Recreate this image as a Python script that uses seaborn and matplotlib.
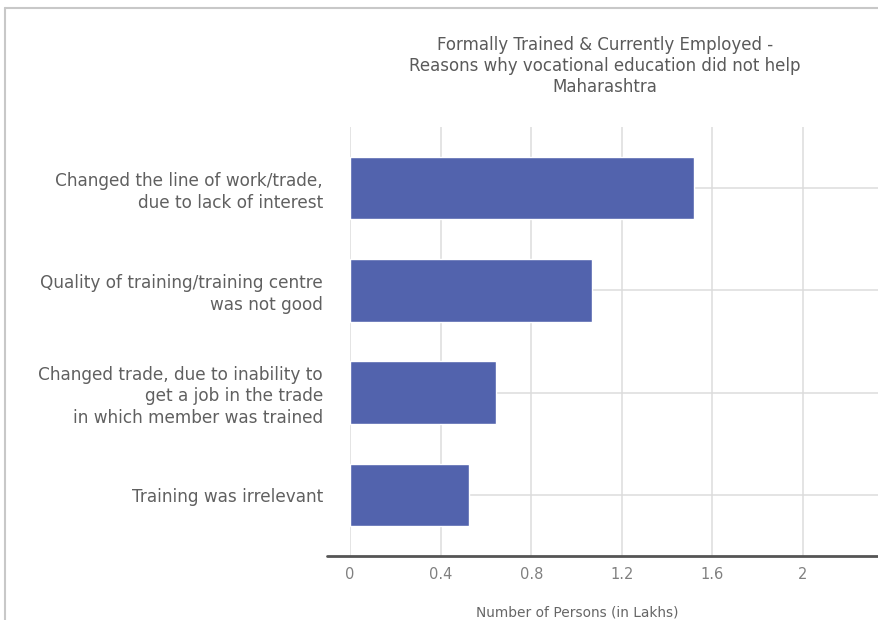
import matplotlib
matplotlib.use("Agg")
import matplotlib.pyplot as plt
import seaborn as sns
import pandas as pd
from matplotlib.lines import Line2D

# reasons (top to bottom) and number of persons in lakhs
reasons = [
    "Changed the line of work/trade,\ndue to lack of interest",
    "Quality of training/training centre\nwas not good",
    "Changed trade, due to inability to\nget a job in the trade\nin which member was trained",
    "Training was irrelevant",
]
persons_lakhs = [1.52, 1.07, 0.645, 0.525]
xticks = [0, 0.4, 0.8, 1.2, 1.6, 2]
xtick_labels = ["0", "0.4", "0.8", "1.2", "1.6", "2"]

df = pd.DataFrame({"reason": reasons, "persons": persons_lakhs})

sns.set_theme(style="white")
plt.rcParams["font.family"] = ["DejaVu Sans"]

W, H = 879, 620
fig = plt.figure(figsize=(W / 100, H / 100), dpi=100)

# plot area in pixels: x 350..879, y 127..556
left, right, top, bottom = 350, 879, 127, 556
ax = fig.add_axes([left / W, 1 - bottom / H, (right - left) / W, (bottom - top) / H])

sns.barplot(data=df, x="persons", y="reason", orient="h", color="#5263ad",
            saturation=1, width=0.61, ax=ax, zorder=3)

ax.set_xlim(0, (right - left) / 226.5)
ax.set_ylim(3.6, -0.6)
ax.set_xticks(xticks)
ax.set_xticklabels(xtick_labels)
ax.set_axisbelow(True)
ax.grid(True, axis="both", color="#dcdcdc", linewidth=1.1)

for s in ax.spines.values():
    s.set_visible(False)

ax.tick_params(axis="x", length=0, pad=8, labelsize=10.5, labelcolor="#808080")
ax.tick_params(axis="y", length=16.5, width=1.1, color="#dcdcdc", pad=3,
               labelsize=12.2, labelcolor="#606060")
for t in ax.get_yticklabels():
    t.set_linespacing(1.27)

ax.set_xlabel("")
ax.set_ylabel("")

# baseline extending a bit left of zero
ax.plot([-23 / (right - left), 1], [0, 0], transform=ax.transAxes,
        color="#555555", linewidth=2, clip_on=False, zorder=4)

# x axis title and chart title
fig.text(577 / W, 1 - 612 / H, "Number of Persons (in Lakhs)", ha="center",
         va="center", fontsize=9.9, color="#666666")
fig.text(605 / W, 1 - 66 / H,
         "Formally Trained & Currently Employed -\n"
         "Reasons why vocational education did not help\nMaharashtra",
         ha="center", va="center", fontsize=12, color="#5a5a5a",
         linespacing=1.2)

# outer frame of the screenshot
fig.add_artist(Line2D([5 / W, 1], [1 - 8 / H, 1 - 8 / H], color="#c8c8c8",
                      linewidth=1.5, transform=fig.transFigure))
fig.add_artist(Line2D([5 / W, 5 / W], [0, 1 - 8 / H], color="#c8c8c8",
                      linewidth=1.5, transform=fig.transFigure))

fig.savefig("out.png", dpi=100)
